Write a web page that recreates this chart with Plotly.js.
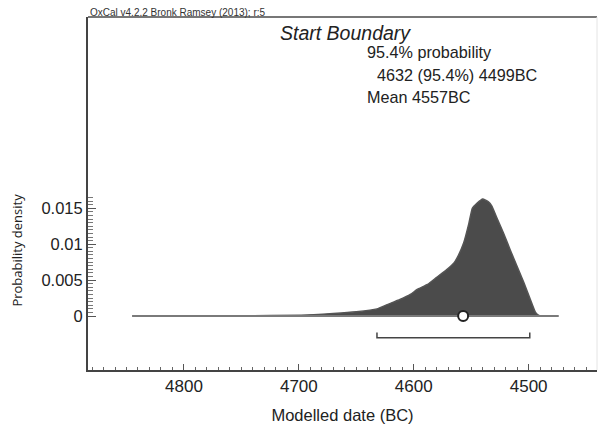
<!DOCTYPE html>
<html>
<head>
<meta charset="utf-8">
<script src="https://cdn.plot.ly/plotly-3.0.1.min.js"></script>
<style>html,body{margin:0;padding:0;background:#fff;}#chart{width:599px;height:427px;}</style>
</head>
<body>
<div id="chart"></div>
<script>
// Modelled date (BC) and probability density
const years = [4845, 4800, 4750, 4698, 4670, 4650, 4632, 4623, 4612, 4603, 4597, 4588, 4580, 4571, 4565, 4561, 4556.5, 4552, 4549, 4545, 4540, 4535, 4532, 4527.5, 4522, 4516, 4510, 4504, 4498.5, 4494, 4491, 4474];
const density = [0, 0.00002, 0.00005, 0.0001, 0.00035, 0.0006, 0.001, 0.0016, 0.0023, 0.003, 0.0037, 0.0044, 0.0054, 0.0065, 0.0074, 0.0085, 0.0102, 0.0129, 0.0150, 0.0157, 0.0163, 0.0159, 0.0153, 0.0136, 0.0116, 0.0092, 0.0069, 0.0046, 0.0023, 0.0005, 0.0001, 0];
const rangeFrom = 4632;
const rangeTo = 4499;
const meanDate = 4557;
const xTickVals = [4800, 4700, 4600, 4500];
const xTickText = ["4800", "4700", "4600", "4500"];
const yTickVals = [0, 0.005, 0.01, 0.015];
const yTickText = ["0", "0.005", "0.01", "0.015"];

// styling constants
const bracketY = -0.0030, bracketTop = -0.0023;
const yMinor = [];
for (let i = 0; i <= 33; i++) yMinor.push(+(i * 0.0005).toFixed(4));

const traces = [
  {
    x: years, y: density, type: 'scatter', mode: 'lines',
    fill: 'tozeroy', fillcolor: '#4b4b4b',
    line: {color: '#555555', width: 1.5, shape: 'spline', smoothing: 0.4},
    hoverinfo: 'skip', showlegend: false
  },
  {
    x: [years[0], years[years.length - 1]], y: [0, 0], type: 'scatter', mode: 'lines',
    line: {color: '#7a7a7a', width: 2}, showlegend: false, hoverinfo: 'skip'
  },
  {
    x: [rangeFrom, rangeFrom, rangeTo, rangeTo], y: [bracketTop, bracketY, bracketY, bracketTop],
    type: 'scatter', mode: 'lines', line: {color: '#444444', width: 1.5},
    showlegend: false, hoverinfo: 'skip'
  },
  {
    x: [meanDate], y: [0], type: 'scatter', mode: 'markers',
    marker: {symbol: 'circle', size: 10, color: '#ffffff', line: {color: '#222222', width: 2}},
    showlegend: false, hoverinfo: 'skip'
  }
];

const font = 'Liberation Sans, Arial, sans-serif';
const layout = {
  width: 599, height: 427,
  margin: {l: 88, r: 2, t: 17, b: 56.5},
  paper_bgcolor: '#ffffff', plot_bgcolor: '#ffffff',
  font: {family: font, color: '#222222', size: 16},
  showlegend: false,
  xaxis: {
    range: [4883.5, 4440.5], showgrid: false, zeroline: false,
    showline: true, linecolor: '#444444', linewidth: 2,
    tickmode: 'array', tickvals: xTickVals, ticktext: xTickText,
    ticks: 'inside', ticklen: 6, tickcolor: '#555555', tickwidth: 1,
    minor: {dtick: 10, tick0: 4800, ticks: 'inside', ticklen: 3, tickcolor: '#666666', tickwidth: 1},
    tickfont: {size: 17, family: font, color: '#222222'},
    title: {text: 'Modelled date (BC)', font: {size: 16.5, family: font, color: '#222222'}, standoff: 14}
  },
  yaxis: {
    range: [-0.0075, 0.0416], showgrid: false, zeroline: false,
    showline: true, linecolor: '#444444', linewidth: 2,
    tickmode: 'array', tickvals: yTickVals, ticktext: yTickText,
    ticks: 'inside', ticklen: 8, tickcolor: '#555555', tickwidth: 1,
    minor: {tickmode: 'array', tickvals: yMinor, ticks: 'inside', ticklen: 5, tickcolor: '#777777', tickwidth: 1},
    tickfont: {size: 16.5, family: font, color: '#222222'}
  },
  shapes: [
    {type: 'line', xref: 'paper', yref: 'paper', x0: 0, x1: 1, y0: 1, y1: 1, line: {color: '#777777', width: 2}},
    {type: 'line', xref: 'paper', yref: 'paper', x0: 1, x1: 1, y0: 0, y1: 1, line: {color: '#e4e4e4', width: 1}}
  ],
  annotations: [
    {text: 'OxCal v4.2.2 Bronk Ramsey (2013); r:5', xref: 'paper', yref: 'paper', x: 0, y: 1.012,
     xanchor: 'left', yanchor: 'middle', showarrow: false, font: {size: 10, family: font, color: '#333333'}},
    {text: '<i>Start Boundary</i>', xref: 'paper', yref: 'paper', x: 0.373, y: 0.954,
     xanchor: 'left', yanchor: 'middle', showarrow: false, font: {size: 19.5, family: font, color: '#222222'}},
    {text: '95.4% probability', xref: 'paper', yref: 'paper', x: 0.544, y: 0.902,
     xanchor: 'left', yanchor: 'middle', showarrow: false, font: {size: 16.2, family: font, color: '#222222'}},
    {text: '4632 (95.4%) 4499BC', xref: 'paper', yref: 'paper', x: 0.564, y: 0.836,
     xanchor: 'left', yanchor: 'middle', showarrow: false, font: {size: 16.2, family: font, color: '#222222'}},
    {text: 'Mean 4557BC', xref: 'paper', yref: 'paper', x: 0.544, y: 0.7745,
     xanchor: 'left', yanchor: 'middle', showarrow: false, font: {size: 16.2, family: font, color: '#222222'}},
    {text: 'Probability density', xref: 'paper', yref: 'paper', x: -0.1395, y: 0.341,
     xanchor: 'center', yanchor: 'middle', textangle: -90, showarrow: false,
     font: {size: 13, family: 'Open Sans, sans-serif', color: '#222222'}}
  ]
};

Plotly.newPlot('chart', traces, layout, {staticPlot: true, displayModeBar: false});
</script>
</body>
</html>
